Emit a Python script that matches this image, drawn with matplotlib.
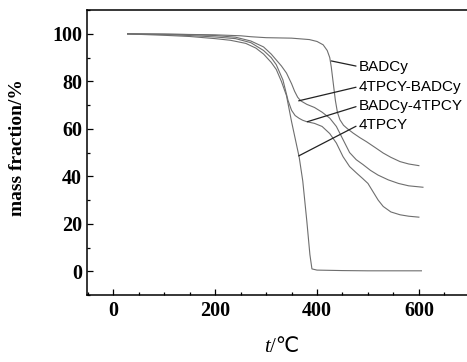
import matplotlib
matplotlib.use('Agg')
import matplotlib.pyplot as plt
from matplotlib.ticker import MultipleLocator

plt.rcParams['font.family'] = ['Liberation Serif', 'DejaVu Sans', 'Noto Sans CJK SC']

# TGA curves (temperature in C, mass fraction in %)
t_4tpcy = [28, 50, 100, 150, 200, 230, 260, 280, 295, 310, 320, 330, 340, 350,
           358, 365, 372, 380, 386, 390, 400, 450, 500, 550, 605]
m_4tpcy = [100, 99.8, 99.4, 98.9, 98.0, 97.3, 96.0, 94.0, 91.5, 88.0, 85.0, 80.0,
           74.0, 63.0, 55.0, 48.0, 38.0, 21.0, 7.0, 1.0, 0.5, 0.3, 0.2, 0.2, 0.2]

t_4tpcy_badcy = [28, 100, 150, 200, 240, 270, 295, 310, 320, 330, 340, 350, 356,
                 362, 368, 380, 395, 410, 425, 438, 451, 464, 477, 490, 505, 520,
                 540, 560, 580, 608]
m_4tpcy_badcy = [100, 99.9, 99.7, 99.3, 98.6, 97.0, 94.5, 91.5, 89.0, 86.5, 83.5,
                 79.0, 75.8, 73.3, 71.8, 70.3, 69.0, 67.0, 64.5, 61.0, 55.5, 50.0,
                 47.0, 45.0, 42.5, 40.5, 38.5, 37.0, 36.0, 35.4]

t_badcy_4tpcy = [28, 100, 150, 200, 240, 270, 295, 310, 320, 333, 343, 350, 357,
                 365, 372, 380, 395, 410, 425, 438, 451, 464, 477, 490, 500, 510,
                 520, 530, 545, 563, 580, 600]
m_badcy_4tpcy = [100, 99.7, 99.3, 98.7, 98.0, 96.3, 93.0, 90.0, 87.0, 80.6, 72.0,
                 67.8, 65.6, 64.4, 63.6, 63.0, 62.3, 61.0, 58.0, 54.0, 48.3, 44.1,
                 41.5, 39.0, 37.0, 33.5, 30.0, 27.3, 25.0, 23.8, 23.2, 22.8]

t_badcy = [28, 100, 200, 250, 270, 300, 350, 385, 400, 412, 420, 425, 428, 432,
           436, 440, 445, 452, 460, 471, 484, 497, 515, 530, 545, 563, 580, 600]
m_badcy = [100, 99.9, 99.6, 99.2, 98.8, 98.4, 98.2, 97.6, 96.8, 95.4, 93.0, 90.0,
           86.0, 79.0, 72.0, 67.0, 63.8, 61.5, 60.0, 58.2, 56.3, 54.6, 52.0, 49.8,
           48.0, 46.2, 45.2, 44.5]

curves = [
    (t_badcy, m_badcy),
    (t_4tpcy_badcy, m_4tpcy_badcy),
    (t_badcy_4tpcy, m_badcy_4tpcy),
    (t_4tpcy, m_4tpcy),
]

# label text, point on the curve the leader line starts from, label anchor
labels = ['BADCy', '4TPCY-BADCy', 'BADCy-4TPCY', '4TPCY']
label_xy = [(428, 88.6), (364, 71.8), (381, 63.0), (364, 48.6)]
label_text_y = [86.2, 77.8, 69.7, 61.7]

fig = plt.figure(figsize=(4.67, 3.62), dpi=100)
ax = fig.add_axes([0.186, 0.185, 0.814, 0.787])

for t, m in curves:
    ax.plot(t, m, color='#6e6e6e', lw=0.8)

for name, xy, ty in zip(labels, label_xy, label_text_y):
    ax.annotate(name, xy=xy, xytext=(482, ty), ha='left', va='center',
                family='Liberation Sans', fontsize=11,
                arrowprops=dict(arrowstyle='-', color='#222222', lw=0.9,
                                shrinkA=0, shrinkB=0, relpos=(0, 0.5)))

ax.set_xlim(-52, 694.5)
ax.set_ylim(-10, 110)
ax.xaxis.set_major_locator(MultipleLocator(200))
ax.xaxis.set_minor_locator(MultipleLocator(50))
ax.yaxis.set_major_locator(MultipleLocator(20))
ax.yaxis.set_minor_locator(MultipleLocator(10))
ax.tick_params(which='both', direction='in', width=0.9, labelsize=14.5)
ax.tick_params(which='major', length=4.5)
ax.tick_params(which='minor', length=2.5)
ax.tick_params(axis='x', pad=4.5)
ax.tick_params(axis='y', pad=3.5)
for lab in ax.get_xticklabels() + ax.get_yticklabels():
    lab.set_fontweight('bold')

ax.spines['right'].set_visible(False)
for s in ['left', 'bottom', 'top']:
    ax.spines[s].set_linewidth(1.1)

# x label: italic t followed by /℃
fig.text(270 / 467, 1 - 338 / 362, 't', ha='right', va='top', fontsize=15,
         style='italic', family='Liberation Serif')
fig.text(270 / 467, 1 - 338 / 362, '/℃', ha='left', va='top', fontsize=15,
         family=['Liberation Serif', 'DejaVu Sans', 'Noto Sans CJK SC'])

ax.set_ylabel('mass fraction/%', fontsize=14, fontweight='bold')
ax.yaxis.set_label_coords(-0.16, 0.516)

fig.savefig('out.png', dpi=100)
